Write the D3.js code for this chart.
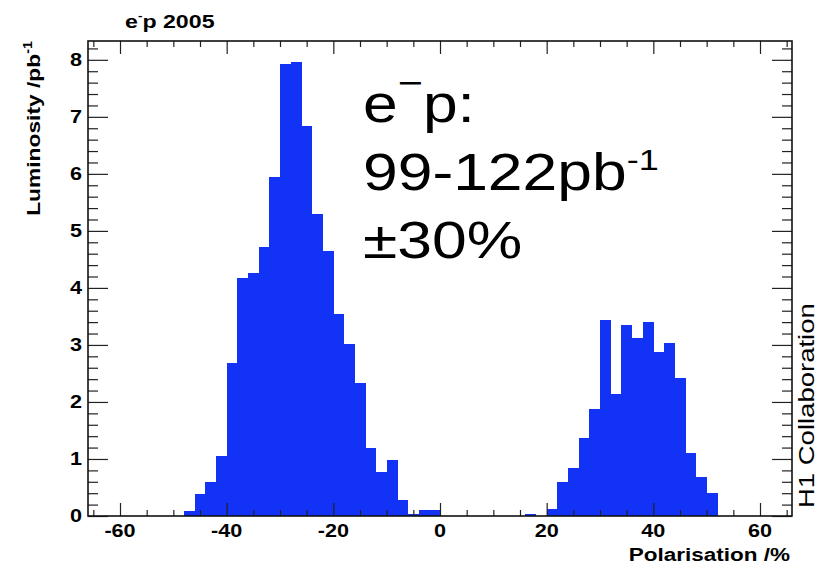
<!DOCTYPE html>
<html>
<head>
<meta charset="utf-8">
<script src="https://cdn.jsdelivr.net/npm/d3@7"></script>
<style>
  html, body { margin: 0; padding: 0; background: #fff; }
  svg { display: block; }
  text { font-family: "Liberation Sans", Arial, Helvetica, sans-serif; fill: #000; }
</style>
</head>
<body>
<svg id="chart" width="825" height="565"></svg>
<script>
// ---- data ----
const binLow = [-48,-46,-44,-42,-40,-38,-36,-34,-32,-30,-28,-26,-24,-22,-20,-18,-16,-14,-12,-10,-8,-6,-4,-2,
                0,2,4,6,8,10,12,14,16,18,20,22,24,26,28,30,32,34,36,38,40,42,44,46,48,50];
const luminosity = [0.09,0.39,0.60,1.06,2.68,4.17,4.27,4.72,5.95,7.92,7.96,6.84,5.30,4.64,3.55,3.01,2.34,1.20,0.77,0.98,0.28,0.03,0.10,0.11,
                0,0,0,0,0,0,0,0,0.04,0,0.13,0.59,0.84,1.36,1.88,3.43,2.14,3.35,3.13,3.40,2.87,3.03,2.42,1.10,0.68,0.40];
const binWidth = 2;
const xTickLabels = [-60,-40,-20,0,20,40,60];
const yTickLabels = [0,1,2,3,4,5,6,7,8];
const xDomain = [-66, 66];
const yDomain = [0, 8.33];

// ---- layout ----
const svg = d3.select("#chart");
const L = 88, R = 792, T = 41, B = 516;
const x = d3.scaleLinear().domain(xDomain).range([L, R]);
const y = d3.scaleLinear().domain(yDomain).range([B, T]);
const SX = 1.2; // horizontal stretch of the reference text
const barColor = "#1232f6";

// bars
const bins = binLow.map((b, i) => ({ lo: b, hi: b + binWidth, v: luminosity[i] }));
svg.append("g").selectAll("rect").data(bins.filter(d => d.v > 0)).join("rect")
  .attr("x", d => x(d.lo))
  .attr("width", d => x(d.hi) - x(d.lo) + 0.4)
  .attr("y", d => y(d.v))
  .attr("height", d => y(0) - y(d.v))
  .attr("fill", barColor)
  .attr("shape-rendering", "crispEdges");

// axes with ticks drawn inside the frame
const tickCol = "#222";
const xMajor = xTickLabels;
const xMinor = d3.range(-65, 66, 5).filter(v => v % 20 !== 0);
const yMajor = yTickLabels;
const yMinor = d3.range(0, 8.31, 0.2).map(v => +v.toFixed(1)).filter(v => Math.abs(v - Math.round(v)) > 1e-6);

function ticks(axisGen, sel, len) {
  return sel.call(axisGen.tickSizeInner(len).tickSizeOuter(0).tickFormat(""))
    .call(g => g.select(".domain").remove())
    .call(g => g.selectAll("line").attr("stroke", tickCol).attr("stroke-width", 1.2));
}
// bottom (ticks upward)
ticks(d3.axisTop(x).tickValues(xMajor), svg.append("g").attr("transform", `translate(0,${B})`), 13);
ticks(d3.axisTop(x).tickValues(xMinor), svg.append("g").attr("transform", `translate(0,${B})`), 6);
// top (ticks downward)
ticks(d3.axisBottom(x).tickValues(xMajor), svg.append("g").attr("transform", `translate(0,${T})`), 13);
ticks(d3.axisBottom(x).tickValues(xMinor), svg.append("g").attr("transform", `translate(0,${T})`), 6);
// left (ticks rightward)
ticks(d3.axisRight(y).tickValues(yMajor), svg.append("g").attr("transform", `translate(${L},0)`), 20);
ticks(d3.axisRight(y).tickValues(yMinor), svg.append("g").attr("transform", `translate(${L},0)`), 10);
// right (ticks leftward)
ticks(d3.axisLeft(y).tickValues(yMajor), svg.append("g").attr("transform", `translate(${R},0)`), 20);
ticks(d3.axisLeft(y).tickValues(yMinor), svg.append("g").attr("transform", `translate(${R},0)`), 10);

// frame
svg.append("rect").attr("x", L).attr("y", T).attr("width", R - L).attr("height", B - T)
  .attr("fill", "none").attr("stroke", "#111").attr("stroke-width", 1.6);

// tick labels
svg.append("g").selectAll("g").data(xTickLabels).join("g")
  .attr("transform", d => `translate(${x(d)},537) scale(${SX},1)`)
  .append("text").attr("text-anchor", "middle").attr("font-size", 18).attr("font-weight", "bold")
  .text(d => d);
svg.append("g").selectAll("g").data(yTickLabels).join("g")
  .attr("transform", d => `translate(82,${y(d)}) scale(${SX},1)`)
  .append("text").attr("text-anchor", "end").attr("dy", "0.36em").attr("font-size", 18).attr("font-weight", "bold")
  .text(d => d);

// axis titles
const xt = svg.append("g").attr("transform", `translate(790,561) scale(1.25,1)`)
  .append("text").attr("text-anchor", "end").attr("font-size", 18).attr("font-weight", "bold")
  .text("Polarisation /%");

const yt = svg.append("g").attr("transform", `translate(40,41) rotate(-90) scale(1.2,1)`)
  .append("text").attr("text-anchor", "end").attr("font-size", 19).attr("font-weight", "bold");
yt.append("tspan").text("Luminosity /pb");
yt.append("tspan").attr("font-size", 12).attr("dy", -8).text("-1");

// title
const tt = svg.append("g").attr("transform", `translate(125,28) scale(1.22,1)`)
  .append("text").attr("font-size", 19).attr("font-weight", "bold");
tt.append("tspan").text("e");
tt.append("tspan").attr("font-size", 11).attr("dy", -9).text("-");
tt.append("tspan").attr("dy", 9).text("p 2005");

// H1 Collaboration
svg.append("g").attr("transform", `translate(814,508) rotate(-90) scale(1.25,1)`)
  .append("text").attr("font-size", 22).text("H1 Collaboration");

// big annotation
const bigG = svg.append("g").attr("transform", `translate(363,0) scale(1.2,1)`);
const l1 = bigG.append("text").attr("x", 0).attr("y", 122).attr("font-size", 52);
l1.append("tspan").text("e");
l1.append("tspan").attr("font-size", 36).attr("dy", -27).text("\u2212");
l1.append("tspan").attr("dy", 27).text("p:");
const l2 = bigG.append("text").attr("x", 0).attr("y", 190).attr("font-size", 52);
l2.append("tspan").text("99-122pb");
l2.append("tspan").attr("font-size", 30).attr("dy", -20).text("-1");
bigG.append("text").attr("x", 0).attr("y", 258).attr("font-size", 52).text("\u00b130%");
</script>
</body>
</html>
